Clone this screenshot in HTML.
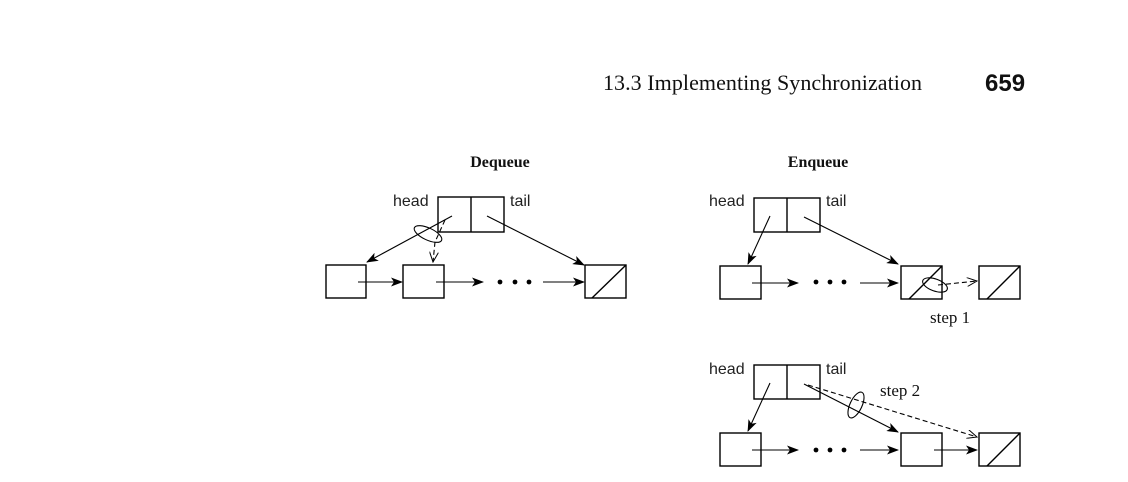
<!DOCTYPE html>
<html><head><meta charset="utf-8"><style>
html,body{margin:0;padding:0;background:#fff;}
svg{display:block;}
.s{font-family:"Liberation Sans",sans-serif;font-size:16px;fill:#222;}
.r{font-family:"Liberation Serif",serif;fill:#111;}
</style></head><body>
<svg width="1128" height="482" viewBox="0 0 1128 482" xmlns="http://www.w3.org/2000/svg">
<defs>
<marker id="a" markerWidth="12" markerHeight="9" refX="11" refY="4.5" orient="auto" markerUnits="userSpaceOnUse"><path d="M0,0 L12,4.5 L0,9 L3,4.5 Z" fill="#000"/></marker>
<marker id="o" markerWidth="11" markerHeight="9" refX="10" refY="4.5" orient="auto" markerUnits="userSpaceOnUse"><path d="M0,0 L10,4.5 L0,9" fill="none" stroke="#000" stroke-width="1"/></marker>
</defs>
<text x="603" y="90" class="r" font-size="22" textLength="319">13.3  Implementing Synchronization</text>
<text x="985" y="91" font-family="Liberation Sans,sans-serif" font-weight="bold" font-size="24" fill="#111">659</text>

<g stroke="#000" fill="none" stroke-width="1.4">
<rect x="438" y="197" width="66" height="35"/><line x1="471" y1="197" x2="471" y2="232"/>
<rect x="326" y="265" width="40" height="33"/>
<rect x="403" y="265" width="41" height="33"/>
<rect x="585" y="265" width="41" height="33"/><line x1="592" y1="298" x2="626" y2="265"/>
<rect x="754" y="198" width="66" height="34"/><line x1="787" y1="198" x2="787" y2="232"/>
<rect x="720" y="266" width="41" height="33"/>
<rect x="901" y="266" width="41" height="33"/><line x1="909" y1="299" x2="942" y2="266"/>
<rect x="979" y="266" width="41" height="33"/><line x1="987" y1="299" x2="1020" y2="266"/>
<rect x="754" y="365" width="66" height="34"/><line x1="787" y1="365" x2="787" y2="399"/>
<rect x="720" y="433" width="41" height="33"/>
<rect x="901" y="433" width="41" height="33"/>
<rect x="979" y="433" width="41" height="33"/><line x1="987" y1="466" x2="1020" y2="433"/>
</g>

<g stroke="#000" fill="none" stroke-width="1.1">
<line x1="452" y1="216" x2="367" y2="262" marker-end="url(#a)"/>
<line x1="487" y1="216" x2="584" y2="265" marker-end="url(#a)"/>
<line x1="358" y1="282" x2="402" y2="282" marker-end="url(#a)"/>
<line x1="436" y1="282" x2="483" y2="282" marker-end="url(#a)"/>
<line x1="543" y1="282" x2="584" y2="282" marker-end="url(#a)"/>
<path d="M445,220 L435,242 L433,262" stroke-dasharray="5,3" marker-end="url(#o)"/>
<ellipse cx="428" cy="234" rx="15" ry="6" transform="rotate(25 428 234)"/>

<line x1="770" y1="216" x2="748" y2="264" marker-end="url(#a)"/>
<line x1="804" y1="217" x2="898" y2="264" marker-end="url(#a)"/>
<line x1="752" y1="283" x2="798" y2="283" marker-end="url(#a)"/>
<line x1="860" y1="283" x2="898" y2="283" marker-end="url(#a)"/>
<path d="M938,285 L977,281" stroke-dasharray="5,3" marker-end="url(#o)"/>
<ellipse cx="935" cy="285" rx="13" ry="6" transform="rotate(20 935 285)"/>

<line x1="770" y1="383" x2="748" y2="431" marker-end="url(#a)"/>
<line x1="804" y1="384" x2="898" y2="432" marker-end="url(#a)"/>
<line x1="808" y1="385" x2="977" y2="437" stroke-dasharray="5,3" marker-end="url(#o)"/>
<ellipse cx="856" cy="405" rx="6" ry="14" transform="rotate(25 856 405)"/>
<line x1="752" y1="450" x2="798" y2="450" marker-end="url(#a)"/>
<line x1="860" y1="450" x2="898" y2="450" marker-end="url(#a)"/>
<line x1="934" y1="450" x2="977" y2="450" marker-end="url(#a)"/>
</g>

<g fill="#000">
<circle cx="500" cy="282" r="2.4"/><circle cx="515" cy="282" r="2.4"/><circle cx="529" cy="282" r="2.4"/>
<circle cx="816" cy="282" r="2.4"/><circle cx="830" cy="282" r="2.4"/><circle cx="844" cy="282" r="2.4"/>
<circle cx="816" cy="450" r="2.4"/><circle cx="830" cy="450" r="2.4"/><circle cx="844" cy="450" r="2.4"/>
</g>

<text x="500" y="167" class="r" font-size="16" font-weight="bold" text-anchor="middle">Dequeue</text>
<text x="818" y="167" class="r" font-size="16" font-weight="bold" text-anchor="middle">Enqueue</text>
<text x="393" y="206" class="s">head</text><text x="510" y="206" class="s">tail</text>
<text x="709" y="206" class="s">head</text><text x="826" y="206" class="s">tail</text>
<text x="709" y="374" class="s">head</text><text x="826" y="374" class="s">tail</text>
<text x="930" y="323" class="r" font-size="17">step 1</text>
<text x="880" y="396" class="r" font-size="17">step 2</text>
</svg>
</body></html>
